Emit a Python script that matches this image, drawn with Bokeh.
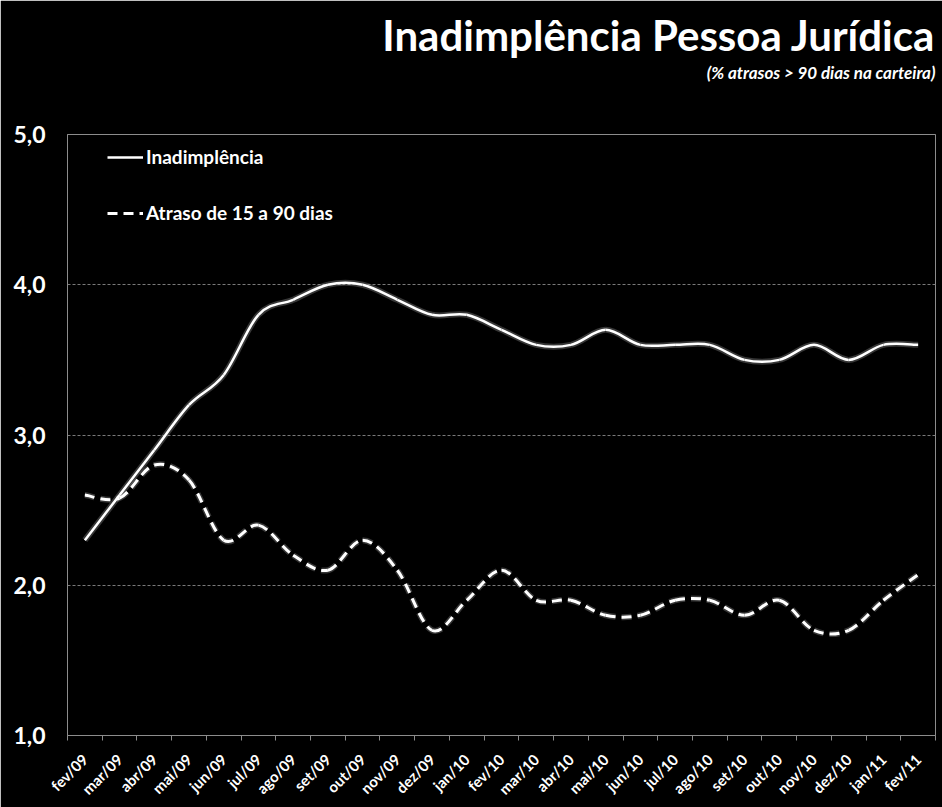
import numpy as np
from bokeh.plotting import figure
from bokeh.models import FixedTicker, Legend, LegendItem, Title, Range1d
from bokeh.embed import file_html
from bokeh.resources import INLINE

months = ["fev/09", "mar/09", "abr/09", "mai/09", "jun/09", "jul/09", "ago/09",
          "set/09", "out/09", "nov/09", "dez/09", "jan/10", "fev/10", "mar/10",
          "abr/10", "mai/10", "jun/10", "jul/10", "ago/10", "set/10", "out/10",
          "nov/10", "dez/10", "jan/11", "fev/11"]
inadimplencia = [2.3, 2.6, 2.9, 3.2, 3.4, 3.8, 3.9, 4.0, 4.0, 3.9, 3.8, 3.8, 3.7,
                 3.6, 3.6, 3.7, 3.6, 3.6, 3.6, 3.5, 3.5, 3.6, 3.5, 3.6, 3.6]
atraso = [2.6, 2.58, 2.8, 2.7, 2.3, 2.4, 2.2, 2.1, 2.3, 2.1, 1.7, 1.9, 2.1,
          1.9, 1.9, 1.8, 1.8, 1.9, 1.9, 1.8, 1.9, 1.7, 1.7, 1.9, 2.07]
y_ticks = [1.0, 2.0, 3.0, 4.0, 5.0]
y_tick_labels = ["1,0", "2,0", "3,0", "4,0", "5,0"]

FONT = "Lato"
xs = np.arange(len(months)) + 0.5


def bezier_cols(xv, yv):
    xv = np.asarray(xv, float)
    yv = np.asarray(yv, float)
    n = len(xv)
    xp = np.concatenate([[xv[0]], xv, [xv[-1]]])
    yp = np.concatenate([[yv[0]], yv, [yv[-1]]])
    return dict(
        x0=xv[:-1], y0=yv[:-1], x1=xv[1:], y1=yv[1:],
        cx0=xp[1:n] + (xp[2:n + 1] - xp[0:n - 1]) / 6,
        cy0=yp[1:n] + (yp[2:n + 1] - yp[0:n - 1]) / 6,
        cx1=xp[2:n + 1] - (xp[3:n + 2] - xp[1:n]) / 6,
        cy1=yp[2:n + 1] - (yp[3:n + 2] - yp[1:n]) / 6,
    )


p = figure(width=942, height=807, output_backend="svg", toolbar_location=None,
           x_range=Range1d(0, len(months)), y_range=Range1d(1, 5),
           min_border_left=67, min_border_right=7, min_border_bottom=70,
           background_fill_color="black", border_fill_color="black",
           outline_line_color="#8c8c8c", outline_line_width=1)

gap = Title(text=" ", text_font_size="4px", standoff=44)
sub = Title(text="(% atrasos > 90 dias na carteira)", align="right",
            text_color="white", text_font=FONT, text_font_size="17px",
            text_font_style="bold italic", standoff=1)
main = Title(text="Inadimplência Pessoa Jurídica", align="right",
             text_color="white", text_font=FONT, text_font_size="42px",
             text_font_style="bold", standoff=0)
spacer = Title(text=" ", text_font_size="4px", standoff=0)
p.add_layout(gap, "above")
p.add_layout(sub, "above")
p.add_layout(main, "above")
p.add_layout(spacer, "above")

# glow
for data, dash in ((inadimplencia, "solid"), (atraso, "10 6")):
    p.bezier(source=bezier_cols(xs, data), x0="x0", y0="y0", x1="x1", y1="y1",
             cx0="cx0", cy0="cy0", cx1="cx1", cy1="cy1",
             line_color="#9a9a9a", line_width=6, line_alpha=0.35, line_dash=dash)

p.bezier(source=bezier_cols(xs, inadimplencia), x0="x0", y0="y0", x1="x1", y1="y1",
         cx0="cx0", cy0="cy0", cx1="cx1", cy1="cy1",
         line_color="white", line_width=2.5)
p.bezier(source=bezier_cols(xs, atraso), x0="x0", y0="y0", x1="x1", y1="y1",
         cx0="cx0", cy0="cy0", cx1="cx1", cy1="cy1",
         line_color="white", line_width=3, line_dash="10 6")

l1 = p.line(x=[np.nan], y=[np.nan], line_color="white", line_width=2.5)
l2 = p.line(x=[np.nan], y=[np.nan], line_color="white", line_width=3, line_dash="10 6")
legend = Legend(items=[LegendItem(label="Inadimplência", renderers=[l1]),
                       LegendItem(label="Atraso de 15 a 90 dias", renderers=[l2])],
                location=(40, 511), background_fill_alpha=0, border_line_alpha=0,
                label_text_color="white", label_text_font=FONT,
                label_text_font_size="19px", label_text_font_style="bold",
                glyph_width=36, glyph_height=20, label_height=20, spacing=33,
                padding=0, margin=0, label_standoff=3)
p.add_layout(legend)

# axes
p.xaxis.ticker = FixedTicker(ticks=list(xs), minor_ticks=list(range(len(months) + 1)))
p.xaxis.major_label_overrides = {float(x): m for x, m in zip(xs, months)}
p.xaxis.major_label_orientation = np.pi / 4
p.xaxis.major_tick_line_color = None
p.xaxis.minor_tick_line_color = "#8c8c8c"
p.xaxis.minor_tick_out = 5
p.xaxis.minor_tick_in = 0
p.xaxis.axis_line_color = "#8c8c8c"
p.xaxis.major_label_text_color = "white"
p.xaxis.major_label_text_font = FONT
p.xaxis.major_label_text_font_size = "15px"
p.xaxis.major_label_text_font_style = "bold"
p.xaxis.major_label_standoff = 15

p.yaxis.ticker = FixedTicker(ticks=y_ticks)
p.yaxis.major_label_overrides = {t: s for t, s in zip(y_ticks, y_tick_labels)}
p.yaxis.major_tick_line_color = None
p.yaxis.minor_tick_line_color = None
p.yaxis.axis_line_color = "#8c8c8c"
p.yaxis.major_label_text_color = "white"
p.yaxis.major_label_text_font = FONT
p.yaxis.major_label_text_font_size = "23px"
p.yaxis.major_label_text_font_style = "bold"
p.yaxis.major_label_standoff = 16

p.xgrid.grid_line_color = None
p.ygrid.ticker = FixedTicker(ticks=[2.0, 3.0, 4.0])
p.ygrid.grid_line_color = "#7a7a7a"
p.ygrid.grid_line_dash = "3 2"
p.ygrid.grid_line_width = 1

open("out.html", "w").write(file_html(p, INLINE))
